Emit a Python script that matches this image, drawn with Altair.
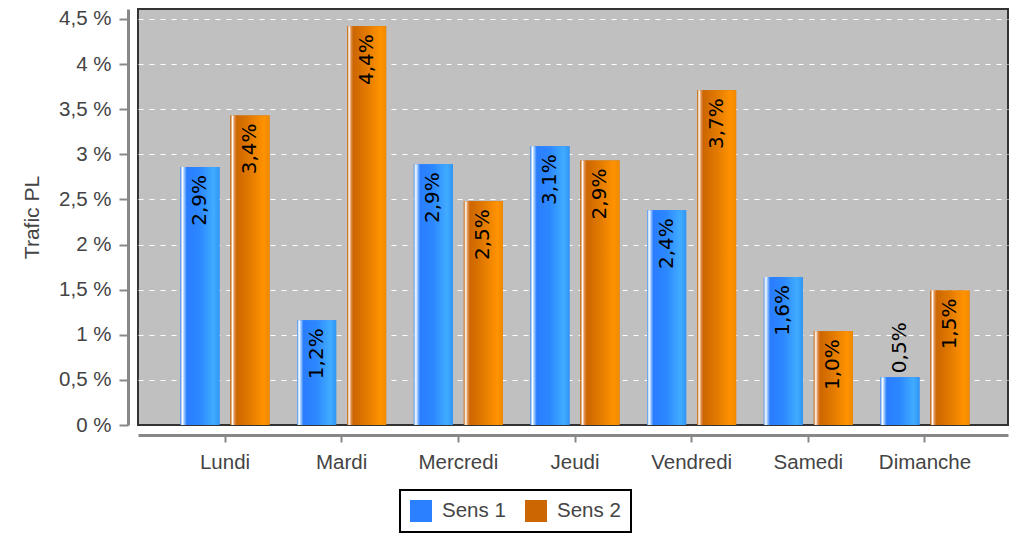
import altair as alt
import pandas as pd

days = ["Lundi", "Mardi", "Mercredi", "Jeudi", "Vendredi", "Samedi", "Dimanche"]
series = ["Sens 1", "Sens 2"]
sens1 = [2.86, 1.16, 2.89, 3.09, 2.38, 1.64, 0.53]
sens2 = [3.43, 4.42, 2.48, 2.93, 3.71, 1.04, 1.49]
y_ticks = [0, 0.5, 1, 1.5, 2, 2.5, 3, 3.5, 4, 4.5]
legend_colors = ["#2a80ff", "#cc6600"]

rows = []
for d, a, b in zip(days, sens1, sens2):
    rows.append({"jour": d, "sens": series[0], "val": a})
    rows.append({"jour": d, "sens": series[1], "val": b})
df = pd.DataFrame(rows)

FONT = "Liberation Sans"
TXT = "#444444"
FS = 20.5

x_enc = alt.X(
    "jour:N",
    sort=days,
    scale=alt.Scale(paddingInner=0, paddingOuter=0.2286, align=0.5375),
    axis=alt.Axis(
        title=None, labelAngle=0, offset=10, domainColor="#888888", domainWidth=3,
        tickColor="#888888", tickSize=7, tickWidth=2, labelPadding=10,
        labelFont=FONT, labelFontSize=FS, labelColor=TXT, grid=False,
    ),
)
xo_enc = alt.XOffset(
    "sens:N", sort=series,
    scale=alt.Scale(domain=series, paddingInner=0.22, paddingOuter=0.277),
)
y_enc = alt.Y(
    "val:Q",
    scale=alt.Scale(domain=[0, 4.61], nice=False, zero=True),
    axis=alt.Axis(
        values=y_ticks, title="Trafic PL",
        labelExpr="replace(format(datum.value, '~g'), '.', ',') + ' %'",
        offset=10, domainColor="#888888", domainWidth=3,
        tickColor="#888888", tickSize=9, tickWidth=2, labelPadding=8,
        labelFont=FONT, labelFontSize=FS, labelColor=TXT,
        titleFont=FONT, titleFontSize=21, titleColor=TXT, titleFontWeight="normal",
        titlePadding=16,
        grid=True, gridColor="white", gridDash=[5, 6], gridWidth=1.2,
        gridOpacity={"condition": {"test": "datum.value == 0", "value": 0}, "value": 1},
    ),
)

base = alt.Chart(df)

legend_bars = base.mark_bar().encode(
    x=x_enc, xOffset=xo_enc, y=y_enc,
    color=alt.Color(
        "sens:N",
        scale=alt.Scale(domain=series, range=legend_colors),
        legend=alt.Legend(
            title=None, orient="none", legendX=262, legendY=481, direction="horizontal",
            symbolType="square", symbolSize=484, symbolStrokeWidth=0,
            labelFont=FONT, labelFontSize=FS, labelColor=TXT, labelOffset=10,
            columnPadding=19, padding=10, strokeColor="black", fillColor="white",
        ),
    ),
)

blue_grad = alt.LinearGradient(
    gradient="linear", x1=0, x2=1, y1=0, y2=0,
    stops=[
        alt.GradientStop(offset=0.0, color="#5a9cf0"),
        alt.GradientStop(offset=0.05, color="#ffffff"),
        alt.GradientStop(offset=0.1, color="#8fc0ff"),
        alt.GradientStop(offset=0.16, color="#2a7dff"),
        alt.GradientStop(offset=0.5, color="#2c88ff"),
        alt.GradientStop(offset=0.85, color="#40acff"),
        alt.GradientStop(offset=1.0, color="#2f96f5"),
    ],
)
orange_grad = alt.LinearGradient(
    gradient="linear", x1=0, x2=1, y1=0, y2=0,
    stops=[
        alt.GradientStop(offset=0.0, color="#c46000"),
        alt.GradientStop(offset=0.05, color="#ffffff"),
        alt.GradientStop(offset=0.1, color="#e09050"),
        alt.GradientStop(offset=0.16, color="#cc6600"),
        alt.GradientStop(offset=0.5, color="#e27a00"),
        alt.GradientStop(offset=0.85, color="#ff9200"),
        alt.GradientStop(offset=1.0, color="#f08a00"),
    ],
)

bars1 = base.mark_bar(color=blue_grad).encode(
    x=x_enc, xOffset=xo_enc, y=y_enc
).transform_filter(alt.datum.sens == series[0])
bars2 = base.mark_bar(color=orange_grad).encode(
    x=x_enc, xOffset=xo_enc, y=y_enc
).transform_filter(alt.datum.sens == series[1])

label_calc = "replace(format(datum.val, '.1f'), '.', ',') + '%'"
text_in = base.mark_text(
    angle=270, align="right", baseline="middle", dx=-8,
    font="DejaVu Sans", fontSize=20, color="black",
).encode(
    x=x_enc, xOffset=xo_enc, y=y_enc, text="label:N"
).transform_calculate(label=label_calc).transform_filter(alt.datum.val >= 0.8)
text_out = base.mark_text(
    angle=270, align="left", baseline="middle", dx=4,
    font="DejaVu Sans", fontSize=20, color="black",
).encode(
    x=x_enc, xOffset=xo_enc, y=y_enc, text="label:N"
).transform_calculate(label=label_calc).transform_filter(alt.datum.val < 0.8)

chart = alt.layer(legend_bars, bars1, bars2, text_in, text_out).properties(
    width=870, height=416,
    autosize=alt.AutoSizeParams(type="none"),
    padding={"left": 130, "top": 1, "right": 1, "bottom": 109},
).configure_view(
    fill="#c0c0c0", stroke="#333333", strokeWidth=2
).configure_legend(strokeWidth=2)

chart.save("out.html", embed_options={"renderer": "svg", "actions": False})
